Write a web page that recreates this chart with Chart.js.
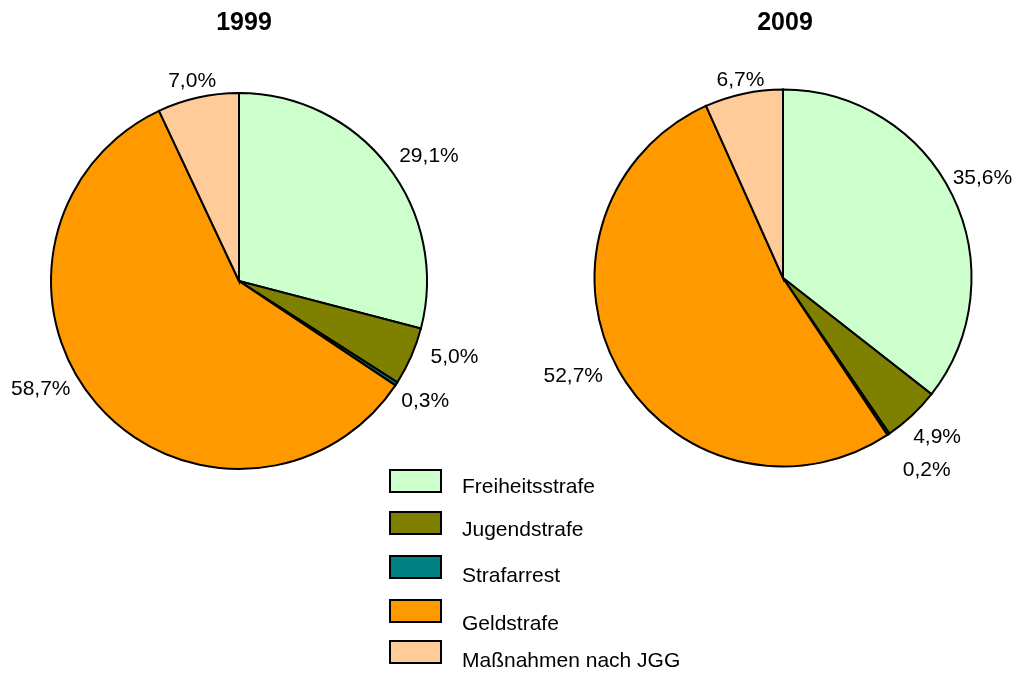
<!DOCTYPE html>
<html><head><meta charset="utf-8">
<script src="https://cdn.jsdelivr.net/npm/chart.js@4.4.0/dist/chart.umd.min.js"></script>
<style>
html,body{margin:0;padding:0;background:#fff;}
#wrap{position:relative;width:1018px;height:673px;overflow:hidden;}
canvas{position:absolute;left:0;top:0;}
</style></head><body>
<div id="wrap"><canvas id="c1" width="1018" height="673"></canvas><canvas id="c2" width="1018" height="673"></canvas></div>
<script>
// ---- data ----
const categories = ['Freiheitsstrafe', 'Jugendstrafe', 'Strafarrest', 'Geldstrafe', 'Maßnahmen nach JGG'];
const values1999 = [29.1, 5.0, 0.3, 58.7, 7.0];
const values2009 = [35.6, 4.9, 0.2, 52.7, 6.7];
const chartTitles = ['1999', '2009'];
const sliceColors = ['#CCFFCC', '#808000', '#008080', '#FF9900', '#FFCC99'];

const FONT = '"Liberation Sans", Arial, Helvetica, sans-serif';
const fmt = v => v.toFixed(1).replace('.', ',') + '%';

const decor = {
  id: 'decor',
  afterDraw(chart, args, o) {
    const ctx = chart.ctx;
    const meta = chart.getDatasetMeta(0);
    const ds = chart.data.datasets[0];
    ctx.save();
    // title
    ctx.fillStyle = '#000';
    ctx.font = 'bold 25px ' + FONT;
    ctx.textAlign = 'center';
    ctx.textBaseline = 'alphabetic';
    ctx.fillText(o.title, o.titleX, o.titleY);
    // labels
    ctx.font = '21px ' + FONT;
    meta.data.forEach((arc, i) => {
      const mid = (arc.startAngle + arc.endAngle) / 2 + (o.angleAdj[i] || 0) * Math.PI / 180;
      const d = o.dist[i];
      const x = arc.x + d * Math.cos(mid);
      const y = arc.y + d * Math.sin(mid);
      ctx.fillText(fmt(ds.data[i]), x, y + 7.5);
    });
    // legend
    if (o.legend) {
      const L = o.legend;
      ctx.textAlign = 'left';
      categories.forEach((c, i) => {
        ctx.fillStyle = sliceColors[i];
        ctx.fillRect(L.x, L.boxTop[i], L.w, L.h);
        ctx.lineWidth = 2;
        ctx.strokeStyle = '#000';
        ctx.strokeRect(L.x, L.boxTop[i], L.w, L.h);
        ctx.fillStyle = '#000';
        ctx.fillText(c, L.textX, L.base[i]);
      });
    }
    ctx.restore();
  }
};

function makePie(id, values, padding, radius, decorOpts) {
  return new Chart(document.getElementById(id), {
    type: 'pie',
    data: {
      labels: categories,
      datasets: [{
        data: values,
        backgroundColor: sliceColors,
        borderColor: '#000',
        borderWidth: 2,
        borderJoinStyle: 'miter',
        radius: radius
      }]
    },
    options: {
      responsive: false,
      animation: false,
      devicePixelRatio: 1,
      layout: { padding: padding },
      plugins: {
        legend: { display: false },
        tooltip: { enabled: false },
        title: { display: false },
        decor: decorOpts
      },
      events: []
    },
    plugins: [decor]
  });
}

makePie('c1', values1999, { left: 39, right: 579, top: 81, bottom: 192 }, 188, {
  title: chartTitles[0], titleX: 244, titleY: 30,
  angleAdj: [4.1, -4.5, -0.6, 12.5, -0.5],
  dist: [228, 228, 221, 225, 207],
  legend: {
    x: 390, w: 51, h: 22,
    boxTop: [470, 512, 556, 600, 641],
    textX: 462,
    base: [493, 536, 582, 630, 667]
  }
});

makePie('c2', values2009, { left: 583, right: 35, top: 78, bottom: 195 }, 188.5, {
  title: chartTitles[1], titleX: 785, titleY: 30,
  angleAdj: [-1.1, -1.3, -3.0, 4.1, 0],
  dist: [224, 220, 239, 231, 204]
});
</script>
</body></html>
